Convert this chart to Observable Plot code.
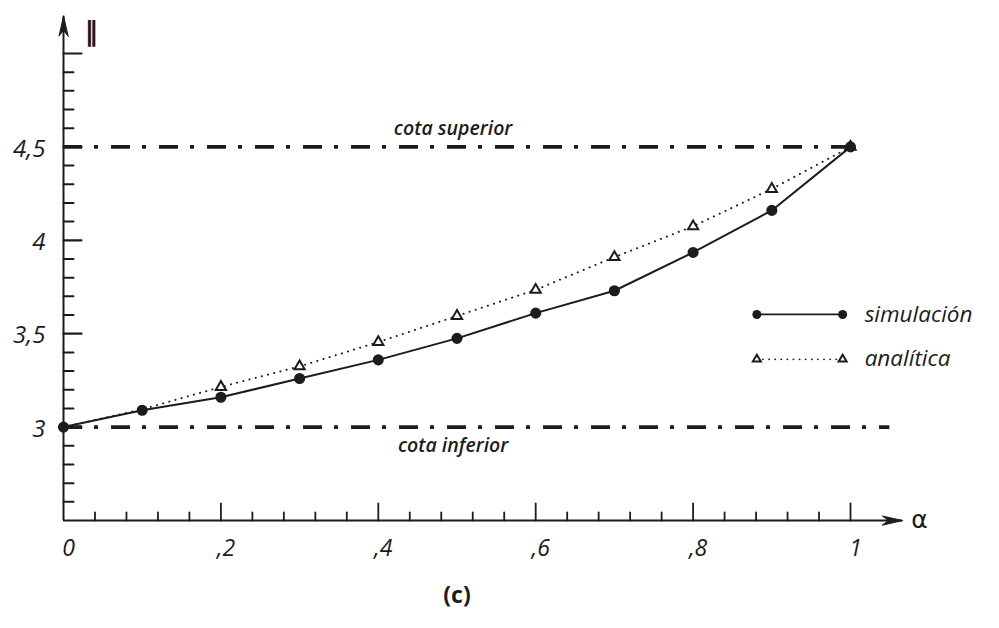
<!DOCTYPE html>
<html>
<head>
<meta charset="utf-8">
<script src="https://cdn.jsdelivr.net/npm/d3@7"></script>
<script src="https://cdn.jsdelivr.net/npm/@observablehq/plot@0.6"></script>
<style>
  html, body { margin: 0; padding: 0; background: #fff; }
  #chart { width: 999px; height: 628px; }
</style>
</head>
<body>
<div id="chart"></div>
<script>
// ---- data ----
const alpha = [0, 0.1, 0.2, 0.3, 0.4, 0.5, 0.6, 0.7, 0.8, 0.9, 1.0];
const simulacion = [3.0, 3.09, 3.16, 3.26, 3.36, 3.475, 3.61, 3.73, 3.935, 4.16, 4.5];
const analitica = [3.0, 3.095, 3.215, 3.325, 3.455, 3.595, 3.735, 3.91, 4.075, 4.275, 4.5];
const seriesNames = ["simulación", "analítica"];

const xTickValues = [0, 0.2, 0.4, 0.6, 0.8, 1];
const xTickLabels = ["0", ",2", ",4", ",6", ",8", "1"];
const yTickValues = [3, 3.5, 4, 4.5];
const yTickLabels = ["3", "3,5", "4", "4,5"];

const boundValues = [4.5, 3];
const boundLabels = ["cota superior", "cota inferior"];

const xAxisLabel = "α";
const yAxisLabel = "‖";
const caption = "(c)";

// ---- derived tables ----
const rows = alpha.map((a, i) => ({alpha: a, sim: simulacion[i], ana: analitica[i]}));
const xMinor = d3.range(1, 26).filter(i => i % 5 !== 0).map(i => i * 0.04);
const xMajor = d3.range(1, 6).map(i => i * 0.2);
const yMinor = d3.range(26, 51).filter(i => i % 5 !== 0).map(i => i / 10);
const yMajor = [3, 3.5, 4, 4.5, 5];

const ink = "#1c1c1c";
const font = "'Open Sans', 'Noto Sans', sans-serif";

const tickShape = {draw(ctx, l) { ctx.moveTo(0, 0); ctx.lineTo(0, -l); }};
const headShape = {draw(ctx, l) {
  ctx.moveTo(0, -l); ctx.lineTo(-4.5, 0); ctx.lineTo(0, -l * 0.3); ctx.lineTo(4.5, 0); ctx.closePath();
}};

const yMin = 2.5, yArrowTop = 5.2, xArrowEnd = 1.066;

// legend layout (in chart coordinates)
const legX1 = 0.881, legX2 = 0.99;
const legY = [3.603, 3.363];

const chart = Plot.plot({
  width: 999,
  height: 628,
  marginLeft: 63,
  marginRight: 149,
  marginTop: 53,
  marginBottom: 108,
  x: {domain: [0, 1], axis: null},
  y: {domain: [yMin, 5.0], axis: null},
  style: {fontFamily: font, color: ink, background: "white", overflow: "visible"},
  marks: [
    // bound lines (dash-dot)
    Plot.ruleY([boundValues[0]], {x1: 0, x2: 1, stroke: ink, strokeWidth: 3.6, strokeDasharray: "19,12,4,13"}),
    Plot.ruleY([boundValues[1]], {x1: 0, x2: 1.05, stroke: ink, strokeWidth: 3.6, strokeDasharray: "19,12,4,13"}),
    Plot.text([boundLabels[0]], {x: 0.495, y: boundValues[0], dy: -18, fontSize: 19.5, fontStyle: "italic", fontWeight: 600, fill: ink}),
    Plot.text([boundLabels[1]], {x: 0.495, y: boundValues[1], dy: 19, fontSize: 19.5, fontStyle: "italic", fontWeight: 600, fill: ink}),

    // axes lines
    Plot.ruleX([0], {y1: yMin, y2: yArrowTop, stroke: ink, strokeWidth: 2}),
    Plot.ruleY([yMin], {x1: 0, x2: xArrowEnd, stroke: ink, strokeWidth: 2}),
    Plot.vector([0], {x: 0, y: yArrowTop, length: 20, rotate: 0, anchor: "end", shape: headShape, fill: ink, stroke: ink, strokeWidth: 1}),
    Plot.vector([0], {x: xArrowEnd, y: yMin, length: 20, rotate: 90, anchor: "end", shape: headShape, fill: ink, stroke: ink, strokeWidth: 1}),

    // x ticks (pointing up)
    Plot.vector(xMinor, {x: d => d, y: yMin, length: 8, rotate: 0, anchor: "start", shape: tickShape, stroke: ink, strokeWidth: 1.8}),
    Plot.vector(xMajor, {x: d => d, y: yMin, length: 17, rotate: 0, anchor: "start", shape: tickShape, stroke: ink, strokeWidth: 1.8}),
    // y ticks (pointing right)
    Plot.vector(yMinor, {x: 0, y: d => d, length: 10, rotate: 90, anchor: "start", shape: tickShape, stroke: ink, strokeWidth: 2}),
    Plot.vector(yMajor, {x: 0, y: d => d, length: 18, rotate: 90, anchor: "start", shape: tickShape, stroke: ink, strokeWidth: 2.2}),

    // tick labels
    Plot.text(xTickValues, {x: d => d, frameAnchor: "bottom", dy: 35, dx: 5, text: (d, i) => xTickLabels[i], fontSize: 23, fontStyle: "italic", fill: ink}),
    Plot.text(yTickValues, {y: d => d, frameAnchor: "left", dx: -18, dy: 2, textAnchor: "end", text: (d, i) => yTickLabels[i], fontSize: 24, fontStyle: "italic", fill: ink}),

    // axis labels
    Plot.text([yAxisLabel], {frameAnchor: "top-left", dx: 21, dy: -33, fontSize: 27, fontWeight: "bold", fontFamily: "DejaVu Sans", fill: ink}),
    Plot.text([xAxisLabel], {x: xArrowEnd, y: yMin, dx: 17, dy: -1, fontSize: 25, fontFamily: "DejaVu Sans", fill: ink}),

    // analítica series: dotted line + hollow triangles
    Plot.line(rows, {x: "alpha", y: "ana", stroke: ink, strokeWidth: 2, strokeDasharray: "0.1,6.3", strokeLinecap: "round"}),
    Plot.dot(rows.filter(d => d.alpha >= 0.2), {x: "alpha", y: "ana", symbol: "triangle", r: 3.8, stroke: ink, strokeWidth: 2, fill: "white"}),

    // simulación series: solid line + filled circles
    Plot.line(rows, {x: "alpha", y: "sim", stroke: ink, strokeWidth: 2}),
    Plot.dot(rows, {x: "alpha", y: "sim", r: 4.8, fill: ink, stroke: ink}),

    // legend
    Plot.line([[legX1, legY[0]], [legX2, legY[0]]], {x: d => d[0], y: d => d[1], stroke: ink, strokeWidth: 1.8}),
    Plot.dot([[legX1, legY[0]], [legX2, legY[0]]], {x: d => d[0], y: d => d[1], r: 4.5, fill: ink}),
    Plot.line([[legX1, legY[1]], [legX2, legY[1]]], {x: d => d[0], y: d => d[1], stroke: ink, strokeWidth: 1.8, strokeDasharray: "0.1,6", strokeLinecap: "round"}),
    Plot.dot([[legX1, legY[1]], [legX2, legY[1]]], {x: d => d[0], y: d => d[1], symbol: "triangle", r: 3, stroke: ink, strokeWidth: 2, fill: "white"}),
    Plot.text(seriesNames, {x: legX2, y: (d, i) => legY[i], dx: 22, textAnchor: "start", fontSize: 22.5, fontStyle: "italic", fill: ink}),

    // caption
    Plot.text([caption], {frameAnchor: "bottom", dy: 82, fontSize: 23, fontWeight: "bold", fill: ink})
  ]
});

document.getElementById("chart").appendChild(chart);
</script>
</body>
</html>
